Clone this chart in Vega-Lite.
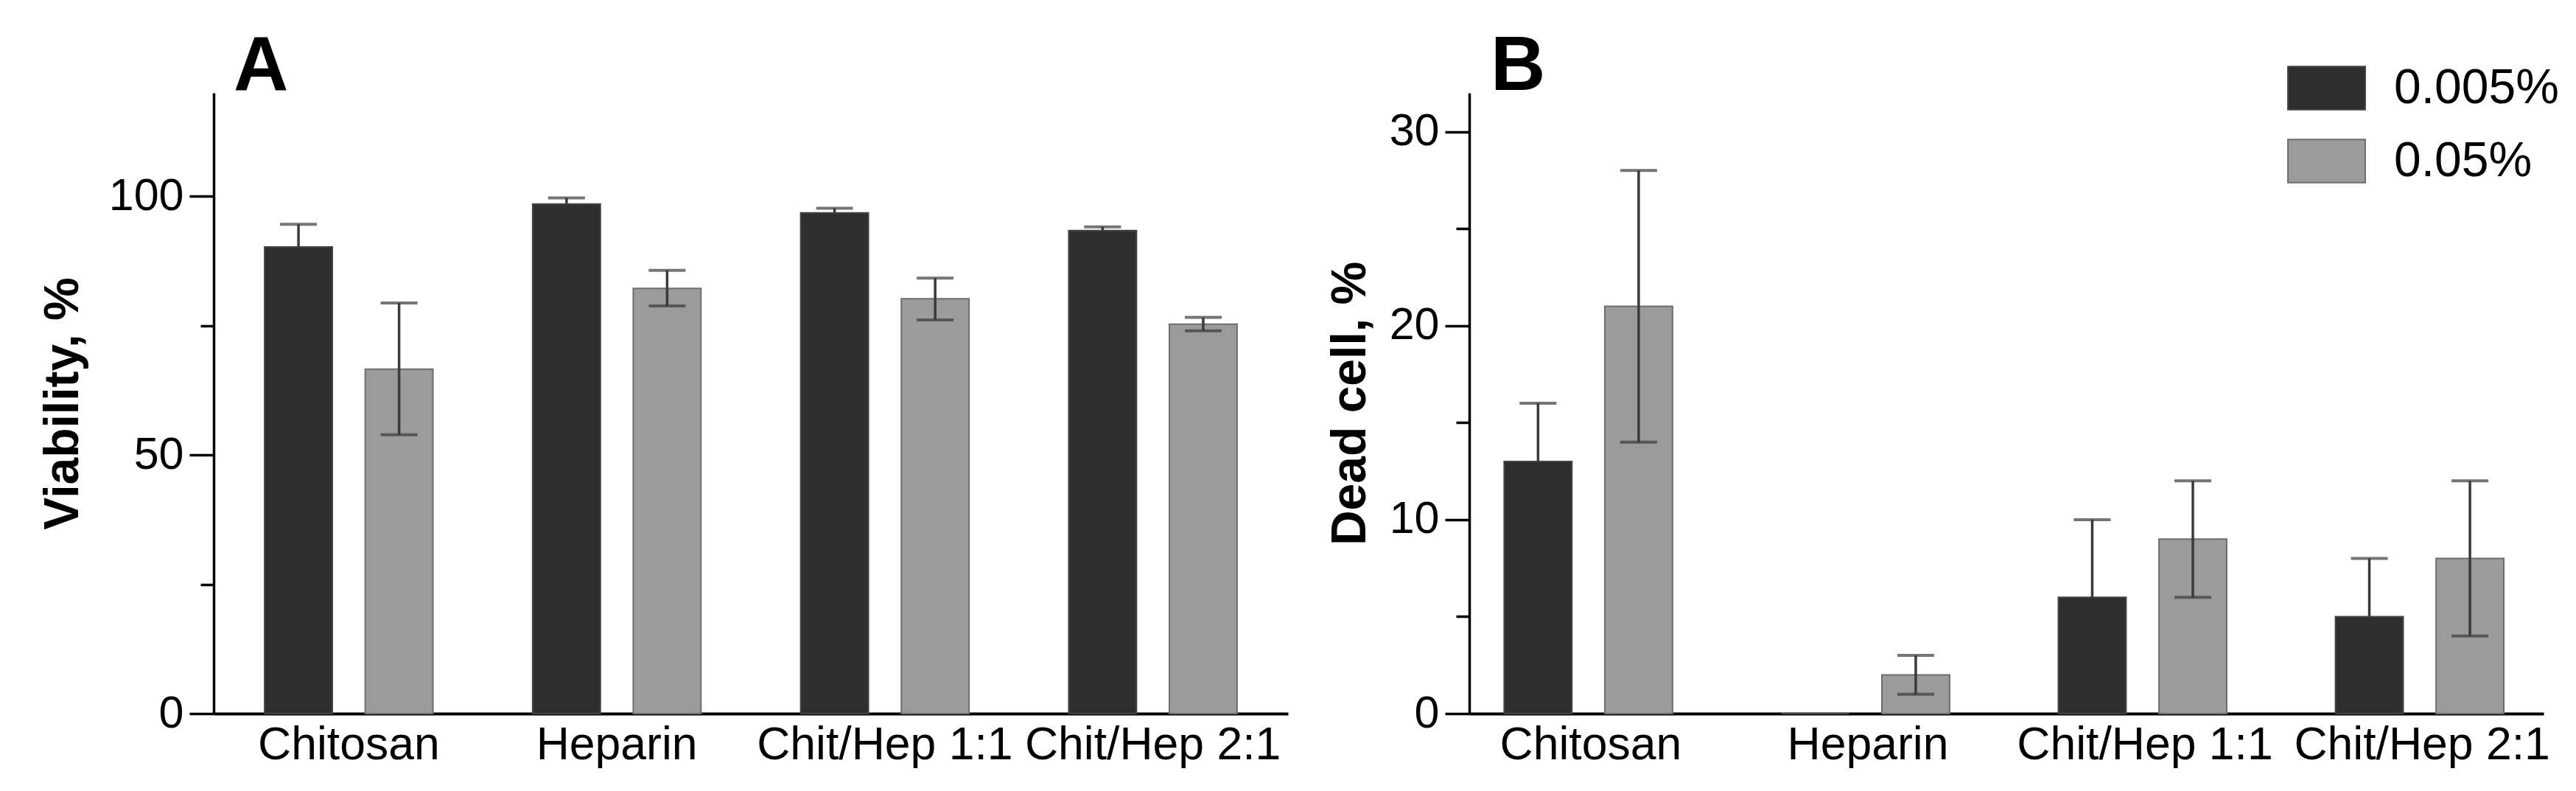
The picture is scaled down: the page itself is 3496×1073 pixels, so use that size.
{
  "$schema": "https://vega.github.io/schema/vega-lite/v6.json",
  "background": "white",
  "padding": {"left": 52, "top": 40, "right": 0, "bottom": 0},
  "bounds": "flush",
  "spacing": 246,
  "config": {
    "font": "Liberation Sans",
    "view": {"stroke": null},
    "axis": {"grid": false, "labelColor": "#000", "titleColor": "#000", "domainColor": "#000", "tickColor": "#000"}
  },
  "datasets": {
    "viability": [
      {"group": "Chitosan", "conc": "0.005%", "mean": 90.2, "lo": 85.8, "hi": 94.6},
      {"group": "Chitosan", "conc": "0.05%", "mean": 66.6, "lo": 53.9, "hi": 79.4},
      {"group": "Heparin", "conc": "0.005%", "mean": 98.5, "lo": 97.3, "hi": 99.7},
      {"group": "Heparin", "conc": "0.05%", "mean": 82.2, "lo": 78.8, "hi": 85.7},
      {"group": "Chit/Hep 1:1", "conc": "0.005%", "mean": 96.8, "lo": 95.9, "hi": 97.7},
      {"group": "Chit/Hep 1:1", "conc": "0.05%", "mean": 80.2, "lo": 76.1, "hi": 84.2},
      {"group": "Chit/Hep 2:1", "conc": "0.005%", "mean": 93.4, "lo": 92.7, "hi": 94.1},
      {"group": "Chit/Hep 2:1", "conc": "0.05%", "mean": 75.3, "lo": 74.0, "hi": 76.6}
    ],
    "dead": [
      {"group": "Chitosan", "conc": "0.005%", "mean": 13, "lo": 10, "hi": 16},
      {"group": "Chitosan", "conc": "0.05%", "mean": 21, "lo": 14, "hi": 28},
      {"group": "Heparin", "conc": "0.005%", "mean": 0},
      {"group": "Heparin", "conc": "0.05%", "mean": 2, "lo": 1, "hi": 3},
      {"group": "Chit/Hep 1:1", "conc": "0.005%", "mean": 6, "lo": 2, "hi": 10},
      {"group": "Chit/Hep 1:1", "conc": "0.05%", "mean": 9, "lo": 6, "hi": 12},
      {"group": "Chit/Hep 2:1", "conc": "0.005%", "mean": 5, "lo": 2, "hi": 8},
      {"group": "Chit/Hep 2:1", "conc": "0.05%", "mean": 8, "lo": 4, "hi": 12}
    ]
  },
  "hconcat": [
    {
      "width": 1458,
      "height": 842,
      "title": {"text": "A", "anchor": "start", "frame": "group", "fontSize": 103, "fontWeight": "bold", "dx": 27, "offset": -99, "baseline": "alphabetic", "color": "#000"},
      "data": {"name": "viability"},
      "encoding": {
        "x": {
          "field": "group", "type": "nominal",
          "sort": ["Chitosan", "Heparin", "Chit/Hep 1:1", "Chit/Hep 2:1"],
          "scale": {"paddingInner": 0.372, "paddingOuter": 0.19},
          "axis": {"title": null, "ticks": false, "domainWidth": 4, "labelFontSize": 62.5, "labelPadding": 12, "labelAngle": 0, "labelLimit": 0, "labelOverlap": false, "labelBound": false}
        },
        "xOffset": {"field": "conc", "type": "nominal", "sort": ["0.005%", "0.05%"], "scale": {"paddingInner": 0.327, "paddingOuter": 0}}
      },
      "layer": [
        {
          "mark": {"type": "bar", "strokeWidth": 2},
          "encoding": {
            "y": {
              "field": "mean", "type": "quantitative",
              "scale": {"domain": [0, 120], "nice": false},
              "axis": {
                "values": [0, 25, 50, 75, 100],
                "labelExpr": "datum.value % 50 === 0 ? datum.label : ''",
                "tickSize": {"condition": {"test": "datum.value % 50 === 0", "value": 33}, "value": 18},
                "tickWidth": 3.5, "domainWidth": 3.5,
                "labelFontSize": 61, "labelPadding": 8,
                "title": "Viability, %", "titleFontSize": 66, "titleFontWeight": "bold",
                "titleX": -205, "titleY": 421, "titleAngle": -90, "titleBaseline": "middle", "titleAlign": "center"
              }
            },
            "color": {"field": "conc", "type": "nominal", "scale": {"domain": ["0.005%", "0.05%"], "range": ["#2e2e2e", "#9b9b9b"]}},
            "stroke": {"field": "conc", "type": "nominal", "scale": {"domain": ["0.005%", "0.05%"], "range": ["#444444", "#6e6e6e"]}}
          }
        },
        {
          "transform": [{"filter": "datum.conc === '0.05%'"}],
          "mark": {"type": "rule", "color": "#3a3a3a", "strokeWidth": 3.5},
          "encoding": {
            "y": {"field": "lo", "type": "quantitative"},
            "y2": {"field": "hi"}
          }
        },
        {
          "transform": [{"filter": "datum.conc === '0.005%'"}],
          "mark": {"type": "rule", "color": "#3a3a3a", "strokeWidth": 3.5},
          "encoding": {
            "y": {"field": "mean", "type": "quantitative"},
            "y2": {"field": "hi"}
          }
        },
        {
          "mark": {"type": "tick", "orient": "horizontal", "size": 50, "thickness": 4, "color": "#3a3a3a"},
          "encoding": {"y": {"field": "hi", "type": "quantitative"}}
        },
        {
          "transform": [{"filter": "datum.conc === '0.05%'"}],
          "mark": {"type": "tick", "orient": "horizontal", "size": 50, "thickness": 4, "color": "#3a3a3a"},
          "encoding": {"y": {"field": "lo", "type": "quantitative"}}
        }
      ]
    },
    {
      "width": 1458,
      "height": 842,
      "title": {"text": "B", "anchor": "start", "frame": "group", "fontSize": 103, "fontWeight": "bold", "dx": 29, "offset": -99, "baseline": "alphabetic", "color": "#000"},
      "data": {"name": "dead"},
      "encoding": {
        "x": {
          "field": "group", "type": "nominal",
          "sort": ["Chitosan", "Heparin", "Chit/Hep 1:1", "Chit/Hep 2:1"],
          "scale": {"paddingInner": 0.375, "paddingOuter": 0.126},
          "axis": {"title": null, "ticks": false, "domainWidth": 4, "labelFontSize": 62.5, "labelPadding": 12, "labelAngle": 0, "labelLimit": 0, "labelOverlap": false, "labelBound": false}
        },
        "xOffset": {"field": "conc", "type": "nominal", "sort": ["0.005%", "0.05%"], "scale": {"paddingInner": 0.327, "paddingOuter": 0}}
      },
      "layer": [
        {
          "mark": {"type": "bar", "strokeWidth": 2},
          "encoding": {
            "y": {
              "field": "mean", "type": "quantitative",
              "scale": {"domain": [0, 32], "nice": false},
              "axis": {
                "values": [0, 5, 10, 15, 20, 25, 30],
                "labelExpr": "datum.value % 10 === 0 ? datum.label : ''",
                "tickSize": {"condition": {"test": "datum.value % 10 === 0", "value": 33}, "value": 18},
                "tickWidth": 3.5, "domainWidth": 3.5,
                "labelFontSize": 61, "labelPadding": 8,
                "title": "Dead cell, %", "titleFontSize": 66, "titleFontWeight": "bold",
                "titleX": -162, "titleY": 421, "titleAngle": -90, "titleBaseline": "middle", "titleAlign": "center"
              }
            },
            "color": {
              "field": "conc", "type": "nominal",
              "scale": {"domain": ["0.005%", "0.05%"], "range": ["#2e2e2e", "#9b9b9b"]},
              "legend": {"orient": "none", "legendX": 2814, "legendY": -60, "title": null, "symbolType": "M-1,-0.56H1V0.56H-1Z", "symbolSize": 11000, "symbolStrokeWidth": 2, "labelFontSize": 66, "labelOffset": 38, "labelLimit": 500, "rowPadding": 12, "padding": 0, "labelColor": "#000"}
            },
            "stroke": {
              "field": "conc", "type": "nominal",
              "scale": {"domain": ["0.005%", "0.05%"], "range": ["#444444", "#6e6e6e"]},
              "legend": {"orient": "none", "legendX": 2814, "legendY": -60, "title": null, "symbolType": "M-1,-0.56H1V0.56H-1Z", "symbolSize": 11000, "symbolStrokeWidth": 2, "labelFontSize": 66, "labelOffset": 38, "labelLimit": 500, "rowPadding": 12, "padding": 0, "labelColor": "#000"}
            }
          }
        },
        {
          "transform": [{"filter": "datum.conc === '0.05%'"}],
          "mark": {"type": "rule", "color": "#3a3a3a", "strokeWidth": 3.5},
          "encoding": {
            "y": {"field": "lo", "type": "quantitative"},
            "y2": {"field": "hi"}
          }
        },
        {
          "transform": [{"filter": "datum.conc === '0.005%'"}],
          "mark": {"type": "rule", "color": "#3a3a3a", "strokeWidth": 3.5},
          "encoding": {
            "y": {"field": "mean", "type": "quantitative"},
            "y2": {"field": "hi"}
          }
        },
        {
          "mark": {"type": "tick", "orient": "horizontal", "size": 50, "thickness": 4, "color": "#3a3a3a"},
          "encoding": {"y": {"field": "hi", "type": "quantitative"}}
        },
        {
          "transform": [{"filter": "datum.conc === '0.05%'"}],
          "mark": {"type": "tick", "orient": "horizontal", "size": 50, "thickness": 4, "color": "#3a3a3a"},
          "encoding": {"y": {"field": "lo", "type": "quantitative"}}
        }
      ]
    }
  ]
}
